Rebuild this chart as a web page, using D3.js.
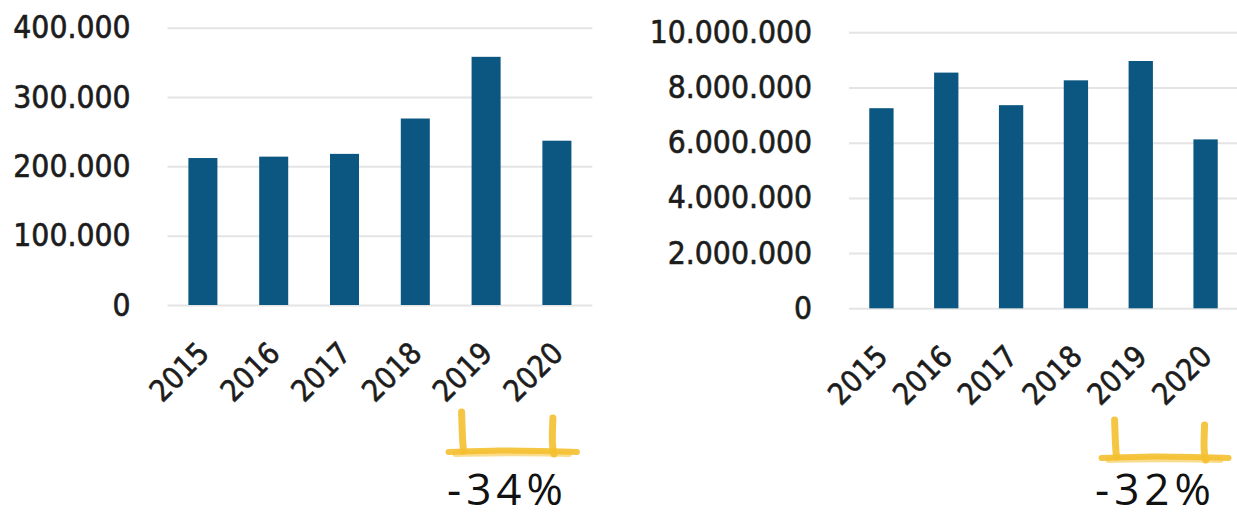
<!DOCTYPE html>
<html>
<head>
<meta charset="utf-8">
<script src="https://cdn.jsdelivr.net/npm/d3@7"></script>
<style>
  html, body { margin: 0; padding: 0; background: #fff; }
  svg { display: block; }
</style>
</head>
<body>
<svg id="chart" width="1237" height="517"></svg>
<script>
// Years on the category axis
const years = ['2015', '2016', '2017', '2018', '2019', '2020'];

// Left panel values
const leftValues = [212000, 214000, 218000, 269000, 358000, 237000];
const leftTicks = [0, 100000, 200000, 300000, 400000];

// Right panel values
const rightValues = [7250000, 8540000, 7360000, 8260000, 8960000, 6120000];
const rightTicks = [0, 2000000, 4000000, 6000000, 8000000, 10000000];

// Change from 2019 to 2020 written under each panel
const changeLabels = ['-34%', '-32%'];

const locale = d3.formatLocale({ decimal: ',', thousands: '.', grouping: [3], currency: ['', ' €'] });
const fmt = locale.format(',.0f');

const BAR = '#0b5781';
const GRID = '#e4e4e4';
const INK = '#1c1c1c';
const MARKER = '#f4c030';
const FONT = '"DejaVu Sans Condensed", "DejaVu Sans", sans-serif';
const HAND = '"Open Sans", "DejaVu Sans", sans-serif';

const svg = d3.select('#chart');

const panels = [
  { values: leftValues, ticks: leftTicks, max: 400000, x0: 167.5, x1: 592.3, yTop: 27.7, yBase: 305, pad: 0.59,
    bracket: { l: -10, r: -4, top: [412, 418], base: 451 }, note: changeLabels[0], noteX: 447, noteY: 505 },
  { values: rightValues, ticks: rightTicks, max: 10000000, x0: 849, x1: 1238, yTop: 32.3, yBase: 308.3, pad: 0.625,
    bracket: { l: -14, r: -1, top: [420, 425], base: 457 }, note: changeLabels[1], noteX: 1095, noteY: 505 }
];

panels.forEach(p => {
  const g = svg.append('g');

  const x = d3.scaleBand()
    .domain(years)
    .range([p.x0, p.x1])
    .paddingInner(p.pad)
    .paddingOuter(p.pad / 2);

  const y = d3.scaleLinear()
    .domain([0, p.max])
    .range([p.yBase, p.yTop]);

  // Value axis with horizontal gridlines
  const yAxis = g.append('g')
    .attr('transform', `translate(${p.x0},0)`)
    .call(d3.axisLeft(y)
      .tickValues(p.ticks)
      .tickSize(-(p.x1 - p.x0))
      .tickPadding(37)
      .tickFormat(fmt));
  yAxis.select('.domain').remove();
  yAxis.selectAll('.tick line')
    .attr('stroke', GRID)
    .attr('stroke-width', 2);
  yAxis.selectAll('.tick text')
    .attr('fill', INK)
    .attr('stroke', INK)
    .attr('stroke-width', 0.6)
    .style('font-family', FONT)
    .style('font-size', '31.5px');

  // Bars
  g.append('g')
    .selectAll('rect')
    .data(years.map((yr, i) => ({ yr, v: p.values[i] })))
    .join('rect')
    .attr('x', d => x(d.yr))
    .attr('width', x.bandwidth())
    .attr('y', d => y(d.v))
    .attr('height', d => y(0) - y(d.v))
    .attr('fill', BAR);

  // Rotated year labels
  g.append('g')
    .selectAll('text')
    .data(years)
    .join('text')
    .attr('transform', d => `translate(${x(d) + x.bandwidth() / 2 + 8},${p.yBase + 50}) rotate(-45)`)
    .attr('text-anchor', 'end')
    .attr('fill', INK)
    .attr('stroke', INK)
    .attr('stroke-width', 0.6)
    .style('font-family', FONT)
    .style('font-size', '30px')
    .text(d => d);

  // Marker bracket from 2019 to 2020
  const bl = x('2019') + p.bracket.l;
  const br = x('2020') + x.bandwidth() / 2 + p.bracket.r;
  const base = p.bracket.base;
  const mark = g.append('g')
    .attr('fill', 'none')
    .attr('stroke', MARKER)
    .attr('stroke-linecap', 'round');
  const strokes = [
    [[bl, p.bracket.top[0]], [bl + 1, base - 8], [bl + 2, base]],
    [[br, p.bracket.top[1]], [br - 1, base - 6], [br + 1, base + 3]],
    [[bl - 13, base + 1], [bl + 40, base - 1], [br - 10, base], [br + 24, base + 1]],
    [[bl - 6, base + 3], [bl + 50, base + 2], [br + 16, base + 3]]
  ];
  const line = d3.line().curve(d3.curveBasis);
  strokes.forEach((s, i) => {
    mark.append('path')
      .attr('d', line(s))
      .attr('stroke-width', i < 2 ? 7 : 6)
      .attr('stroke-opacity', i === 3 ? 0.55 : 0.9);
  });

  // Handwritten change note
  g.append('text')
    .attr('x', p.noteX)
    .attr('y', p.noteY)
    .attr('fill', '#111')
    .style('font-family', HAND)
    .style('font-weight', 400)
    .style('font-size', '44px')
    .style('letter-spacing', '5px')
    .text(p.note);
});
</script>
</body>
</html>
